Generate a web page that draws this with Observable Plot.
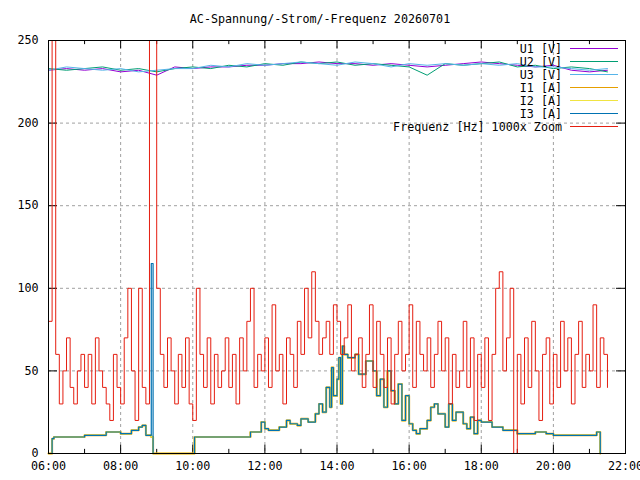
<!DOCTYPE html>
<html><head><meta charset="utf-8">
<script src="https://cdn.jsdelivr.net/npm/d3@7"></script>
<script src="https://cdn.jsdelivr.net/npm/@observablehq/plot@0.6"></script>
<style>
body{margin:0;background:#fff;font-family:"DejaVu Sans Mono",monospace;}
#wrap{position:relative;width:640px;height:480px;}
#title{position:absolute;top:12px;left:0;width:640px;text-align:center;font-size:11.7px;}
#legend{position:absolute;top:42px;right:22px;font-size:11.7px;}
.li{display:flex;justify-content:flex-end;align-items:center;height:13px;}
.sw{width:48px;height:0;border-top:1px solid;margin-left:8px;}
svg{overflow:visible}
</style></head><body>
<div id="wrap"><div id="title">AC-Spannung/-Strom/-Frequenz 20260701</div><div id="legend"></div></div>
<script>
const freqStart = 6.0, freqStep = 0.1;
const freq = [80,250,60,30,50,70,40,30,50,60,
 40,60,30,70,50,40,30,20,60,40,
 30,70,100,50,20,100,40,30,250,250,
 100,60,40,70,50,30,60,40,70,30,
 20,100,60,40,70,30,60,40,50,70,
 40,60,30,70,50,80,100,40,60,50,
 70,40,90,50,60,30,70,60,40,80,
 60,100,70,110,80,60,70,80,60,90,
 80,60,70,90,50,60,70,40,60,90,
 40,80,60,40,70,30,60,80,50,60,
 90,40,80,60,50,70,40,60,80,50,
 70,30,60,40,50,80,40,70,20,60,
 40,70,20,60,100,110,50,70,100,0,
 60,30,70,40,80,50,20,60,70,30,
 60,40,80,50,70,30,60,80,40,60,
 50,90,40,70,60,40];
const uStart = 6.0, uStep = 0.5;
const u1 = [232,233,232,233,231,232,229,234,233,234,234,235,235,236,236,237,236,236,235,236,235,234,235,236,237,236,235,234,235,232,231,232];
const u2 = [233,232,233,234,232,233,231,233,234,233,235,234,236,235,237,236,237,235,236,235,234,229,236,235,236,237,234,235,233,234,233,231];
const u3 = [232,234,233,232,233,231,232,233,233,235,234,236,235,236,237,236,235,237,236,234,236,235,236,235,236,235,236,234,234,233,232,233];
const iTime = [6.0,6.1,6.15,6.5,7.0,7.5,7.6,8.0,8.3,8.5,8.6,8.7,8.85,8.9,9.0,9.05,10.0,10.05,11.0,11.3,11.6,11.9,12.0,12.1,12.4,12.6,12.7,12.9,13.0,13.2,13.4,13.5,13.6,13.7,13.8,13.85,13.9,14.0,14.05,14.1,14.15,14.2,14.3,14.5,14.6,14.8,15.0,15.1,15.2,15.3,15.4,15.5,15.6,15.7,15.8,15.9,16.0,16.1,16.2,16.3,16.5,16.6,16.7,16.8,17.0,17.1,17.2,17.3,17.5,17.6,17.7,17.8,17.9,18.0,18.3,18.6,19.0,19.5,19.8,20.0,20.5,21.0,21.1,21.2,21.3];
const i12 = [0,9,10,10,11,11,13,12,14,16,17,11,10,0,0,0,0,10,10,10,13,19,15,14,16,20,18,17,21,19,24,30,25,40,28,52,35,45,58,30,65,60,58,60,48,56,50,35,45,28,50,38,30,42,20,35,18,14,12,15,20,28,30,24,16,30,20,25,18,15,22,12,20,19,16,14,12,13,12,11,11,11,11,13,0];
const i3 = [0,9,10,10,11,11,13,12,14,16,17,11,115,0,0,0,0,10,10,10,13,19,15,14,16,20,18,17,21,19,24,30,25,40,28,52,35,45,58,30,65,60,58,60,48,56,50,35,45,28,50,38,30,42,20,35,18,14,12,15,20,28,30,24,16,30,20,25,18,15,22,12,20,19,16,14,12,13,12,11,11,11,11,13,0];
const xTicks = [6,8,10,12,14,16,18,20,22];
const xMinor = [7,9,11,13,15,17,19,21];
const xLabels = ["06:00","08:00","10:00","12:00","14:00","16:00","18:00","20:00","22:00"];
const yTicks = [0,50,100,150,200,250];

const C = {u1:"#9400d3",u2:"#009e73",u3:"#56b4e9",i1:"#e69f00",i2:"#f0e442",i3:"#0072b2",f:"#e51e10"};
const fData = freq.map((v,i)=>({x:freqStart+i*freqStep,y:v}));
const uData = (a)=>a.map((v,i)=>({x:uStart+i*uStep,y:v}));
const iData = (a)=>a.map((v,i)=>({x:iTime[i],y:v}));
const step = {curve:"step-after"};
const chart = Plot.plot({
  width:640,height:480,marginLeft:48,marginRight:15,marginTop:40,marginBottom:27,
  style:{fontFamily:"DejaVu Sans Mono, monospace",fontSize:"11.7px",color:"#000",overflow:"visible"},
  x:{type:"linear",domain:[6,22],ticks:xTicks,tickFormat:(d)=>xLabels[xTicks.indexOf(d)],tickSize:0,tickPadding:8,label:null},
  y:{type:"linear",domain:[0,250],ticks:yTicks,tickSize:0,tickPadding:10,label:null},
  marks:[
    Plot.ruleX(xTicks.slice(1,-1),{stroke:"#a0a0a0",strokeDasharray:"3,3"}),
    Plot.ruleY(yTicks.slice(1,-1),{stroke:"#a0a0a0",strokeDasharray:"3,3"}),
    Plot.ruleX(xTicks,{y1:0,y2:5,stroke:"#000"}),
    Plot.ruleX(xTicks,{y1:245,y2:250,stroke:"#000"}),
    Plot.ruleX(xMinor,{y1:0,y2:2.5,stroke:"#000"}),
    Plot.ruleX(xMinor,{y1:247.5,y2:250,stroke:"#000"}),
    Plot.ruleY(yTicks,{x1:6,x2:6.25,stroke:"#000"}),
    Plot.ruleY(yTicks,{x1:21.75,x2:22,stroke:"#000"}),
    Plot.lineY(uData(u1),{x:"x",y:"y",stroke:C.u1,strokeWidth:1}),
    Plot.lineY(uData(u2),{x:"x",y:"y",stroke:C.u2,strokeWidth:1}),
    Plot.lineY(uData(u3),{x:"x",y:"y",stroke:C.u3,strokeWidth:1}),
    Plot.lineY(iData(i12),{x:"x",y:"y",stroke:C.i1,strokeWidth:2,...step}),
    Plot.lineY(iData(i12),{x:"x",y:"y",stroke:C.i2,strokeWidth:1.5,...step}),
    Plot.lineY(iData(i3),{x:"x",y:"y",stroke:C.i3,strokeWidth:1.2,...step}),
    Plot.lineY(fData,{x:"x",y:"y",stroke:C.f,strokeWidth:1,...step}),
    Plot.frame({stroke:"#000"})
  ]
});
const wrap=document.getElementById("wrap");
wrap.insertBefore(chart,wrap.firstChild);
chart.style.position="absolute";chart.style.top="0";chart.style.left="0";
const leg=[["U1 [V]",C.u1],["U2 [V]",C.u2],["U3 [V]",C.u3],["I1 [A]",C.i1],["I2 [A]",C.i2],["I3 [A]",C.i3],["Frequenz [Hz] 1000x Zoom",C.f]];
const L=document.getElementById("legend");
for(const [t,c] of leg){const d=document.createElement("div");d.className="li";d.innerHTML=`<span>${t}</span><span class="sw" style="border-color:${c}"></span>`;L.appendChild(d);}
</script></body></html>
